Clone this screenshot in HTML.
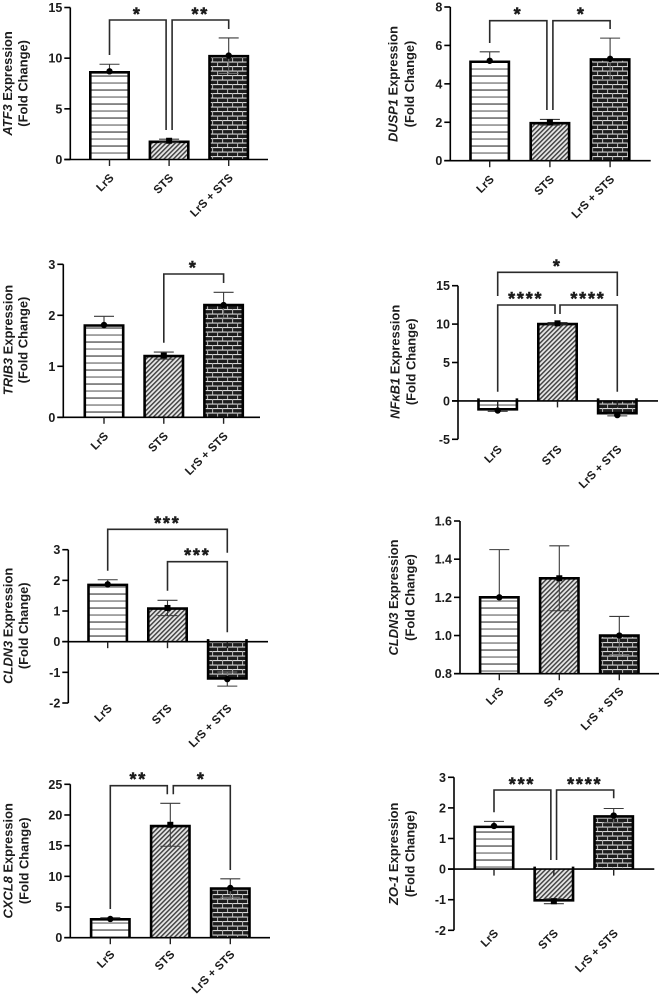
<!DOCTYPE html>
<html lang="en">
<head>
<meta charset="utf-8">
<title>Gene expression fold change panels</title>
<style>
html,body{margin:0;padding:0;background:#fff;width:662px;height:995px;overflow:hidden}
svg{display:block;filter:blur(0.35px)}
text{font-family:"Liberation Sans",Arial,sans-serif;font-weight:bold;fill:#1c1c1c}
</style>
</head>
<body>
<svg id="figure" xmlns="http://www.w3.org/2000/svg" width="662" height="995" viewBox="0 0 662 995">
<defs>
<pattern id="pat-lines" patternUnits="userSpaceOnUse" width="14" height="14" patternTransform="translate(0,3)">
<rect width="14" height="14" fill="#fff"/>
<rect y="2.3" width="14" height="1.5" fill="#666"/>
<rect y="9.3" width="14" height="1.5" fill="#888"/>
</pattern>
<pattern id="pat-hatch" patternUnits="userSpaceOnUse" width="3.3" height="3.3" patternTransform="rotate(-45)">
<rect width="3.3" height="3.3" fill="#e8e8e8"/>
<rect width="3.3" height="1.5" fill="#444"/>
</pattern>
<pattern id="pat-brick" patternUnits="userSpaceOnUse" width="10" height="9">
<rect width="10" height="9" fill="#1d1d1d"/>
<rect y="3" width="10" height="1.1" fill="#d8d8d8"/>
<rect y="7.5" width="10" height="1.1" fill="#d8d8d8"/>
<rect x="2" y="3" width="1.1" height="4.5" fill="#aaa"/>
<rect x="7" y="7.5" width="1.1" height="1.5" fill="#aaa"/>
<rect x="7" y="0" width="1.1" height="3" fill="#aaa"/>
</pattern>
</defs>
</svg>
<script>
// ---- shared categories ----
const categories = ["LrS", "STS", "LrS + STS"];

// ---- series values, points, error amounts and tick labels ----
const atf3Values = [8.6, 1.75, 10.2];
const atf3Points = [8.7, 1.85, 10.25];
const atf3Errors = [0.7, 0.15, 1.75];
const atf3Ticks = [0, 5, 10, 15];

const dusp1Values = [5.15, 1.95, 5.27];
const dusp1Points = [5.2, 2.0, 5.3];
const dusp1Errors = [0.47, 0.15, 1.08];
const dusp1Ticks = [0, 2, 4, 6, 8];

const trib3Values = [1.8, 1.2, 2.2];
const trib3Points = [1.81, 1.21, 2.2];
const trib3Errors = [0.17, 0.07, 0.25];
const trib3Ticks = [0, 1, 2, 3];

const nfkb1Values = [-1.1, 10, -1.6];
const nfkb1Points = [-1.25, 10.1, -1.85];
const nfkb1Errors = [0.1, 0.1, 0.1];
const nfkb1Ticks = [-5, 0, 5, 10, 15];

const cldn3aValues = [1.85, 1.08, -1.2];
const cldn3aPoints = [1.87, 1.1, -1.22];
const cldn3aErrors = [0.15, 0.25, 0.23];
const cldn3aTicks = [-2, -1, 0, 1, 2, 3];

const cldn3bValues = [1.2, 1.3, 1.0];
const cldn3bPoints = [1.2, 1.3, 1.0];
const cldn3bErrors = [0.25, 0.17, 0.1];
const cldn3bTicks = ["0.8", "1.0", "1.2", "1.4", "1.6"];

const cxcl8Values = [3, 18.2, 8.0];
const cxcl8Points = [3.05, 18.4, 8.1];
const cxcl8Errors = [0.2, 3.5, 1.5];
const cxcl8Ticks = [0, 5, 10, 15, 20, 25];

const zo1Values = [1.38, -1.02, 1.72];
const zo1Points = [1.41, -1.05, 1.75];
const zo1Errors = [0.15, 0.08, 0.23];
const zo1Ticks = [-2, -1, 0, 1, 2, 3];

const barFills = ["url(#pat-lines)", "url(#pat-hatch)", "url(#pat-brick)"];
const innerErrorColors = ["none", "#3a3a3a", "#777"];
const SVGNS = "http://www.w3.org/2000/svg";
const root = document.getElementById("figure");

function make(tag, parent, attrs) {
  const el = document.createElementNS(SVGNS, tag);
  for (const k in attrs) el.setAttribute(k, attrs[k]);
  parent.appendChild(el);
  return el;
}

function slug(s) {
  return String(s).toLowerCase().replace(/[^a-z0-9.-]+/g, "-");
}

// bracket: a/b = category indices, da/db = horizontal nudge, yA/yB = leg ends, yTop = bar level, sx/sy = stars
function drawPanel(p) {
  const g = make("g", root, {});
  
  

  const tickMin = Number(p.ticks[0]);
  const tickMax = Number(p.ticks[p.ticks.length - 1]);
  const yScale = v => p.yBottom + (v - tickMin) * (p.yTop - p.yBottom) / (tickMax - tickMin);
  const xScale = i => p.firstX + i * p.stepX;
  const base = Math.max(0, tickMin);
  const y0 = yScale(base);
  const labelAnchorY = p.labelY;
  const halfBar = 19.2;

  // bars
  p.values.forEach((v, i) => {
    const cx = xScale(i), vy = yScale(v);
    const name = slug(categories[i]);
    const fill = make("rect", g, {
      x: cx - halfBar, y: Math.min(vy, y0), width: halfBar * 2, height: Math.abs(vy - y0), fill: barFills[i]
    });
    
    
    const startY = v < base ? y0 - 2.5 : y0;
    const outline = make("path", g, {
      d: "M" + (cx - halfBar) + " " + startY + "V" + vy + "H" + (cx + halfBar) + "V" + startY,
      fill: "none", stroke: "#000", "stroke-width": 2.6
    });
    
    
  });

  // error bars: outer whisker is fully visible, inner whisker fades into the bar pattern
  p.points.forEach((v, i) => {
    const cx = xScale(i), cy = yScale(v);
    const sign = v >= 0 ? 1 : -1;
    const outerY = yScale(v + sign * p.errors[i]);
    const innerY = yScale(v - sign * p.errors[i]);
    const err = make("path", g, {
      d: "M" + cx + " " + outerY + "V" + cy + "M" + (cx - 10) + " " + outerY + "H" + (cx + 10),
      fill: "none", stroke: "#3a3a3a", "stroke-width": 1.1
    });
    
    
    const inner = make("path", g, {
      d: "M" + cx + " " + cy + "V" + innerY + "M" + (cx - 10) + " " + innerY + "H" + (cx + 10),
      fill: "none", stroke: innerErrorColors[i], "stroke-width": 1
    });
    
    
  });

  // points
  p.points.forEach((v, i) => {
    const cx = xScale(i), cy = yScale(v);
    const dot = i === 1
      ? make("rect", g, { x: cx - 3, y: cy - 3, width: 6, height: 6, fill: "#000" })
      : make("circle", g, { cx: cx, cy: cy, r: 3.2, fill: "#000" });
    
    
  });

  // axes
  const yAxis = make("line", g, {
    x1: p.axisX, x2: p.axisX, y1: p.yBottom, y2: p.yTop, stroke: "#000", "stroke-width": 1.6
  });
  
  
  const xAxis = make("line", g, {
    x1: p.axisX - 6, x2: p.axisEnd, y1: y0, y2: y0, stroke: "#000", "stroke-width": 1.6
  });
  
  

  // y ticks
  p.ticks.forEach(t => {
    const ty = yScale(Number(t));
    const tick = make("line", g, {
      x1: p.axisX - 6, x2: p.axisX, y1: ty, y2: ty, stroke: "#000", "stroke-width": 1.6
    });
    
    
    const lab = make("text", g, {
      x: p.axisX - 8, y: ty + 4.5, "text-anchor": "end", "font-size": 12.5
    });
    lab.textContent = t;
    
    
  });

  // x ticks and category labels
  categories.forEach((c, i) => {
    const cx = xScale(i);
    const tick = make("line", g, {
      x1: cx, x2: cx, y1: y0, y2: y0 + 6.5, stroke: "#222", "stroke-width": 1.4
    });
    
    
    const ax = cx + 5, ay = labelAnchorY - 1;
    const lab = make("text", g, {
      x: ax, y: ay, "text-anchor": "end", "font-size": 11.6,
      transform: "rotate(-45 " + ax + " " + ay + ")"
    });
    lab.textContent = c;
    
    
  });

  // y axis title
  const titleLines = [[p.gene, " Expression"], ["", "(Fold Change)"]];
  titleLines.forEach((line, n) => {
    const tx = p.titleX + n * p.titleGap;
    const title = make("text", g, {
      x: tx, y: p.titleY, "text-anchor": "middle", "font-size": 12.9,
      transform: "rotate(-90 " + tx + " " + p.titleY + ")"
    });
    
    
    if (line[0]) {
      const it = make("tspan", title, { "font-style": "italic" });
      it.textContent = line[0];
    }
    const rest = make("tspan", title, {});
    rest.textContent = line[1];
  });

  // significance brackets
  p.brackets.forEach(b => {
    const xa = xScale(b.a) + (b.da || 0), xb = xScale(b.b) + (b.db || 0);
    const path = make("path", g, {
      d: "M" + xa + " " + b.yA + "V" + b.yTop + "H" + xb + "V" + b.yB,
      fill: "none", stroke: "#2a2a2a", "stroke-width": 1.6
    });
    
    
    const star = make("text", g, {
      x: b.sx, y: b.sy + 10.3, "text-anchor": "middle", "font-size": 18, "letter-spacing": 1.8,
      stroke: "#1c1c1c", "stroke-width": 0.5
    });
    star.textContent = b.stars;
    
    
  });
}

drawPanel({
  id: "atf3", gene: "ATF3", values: atf3Values, points: atf3Points, errors: atf3Errors, ticks: atf3Ticks,
  axisX: 70.3, axisEnd: 268, yTop: 7.5, yBottom: 159.5, firstX: 109.5, stepX: 59.6,
  labelY: 179.5, titleX: 12, titleGap: 15.3, titleY: 83.4,
  brackets: [
    { a: 0, b: 1, db: -3, yA: 55, yB: 130, yTop: 20, sx: 137.3, sy: 10, stars: "*" },
    { a: 1, b: 2, da: 3, yA: 130, yB: 29, yTop: 20, sx: 200.3, sy: 10, stars: "**" }
  ]
});
drawPanel({
  id: "dusp1", gene: "DUSP1", values: dusp1Values, points: dusp1Points, errors: dusp1Errors, ticks: dusp1Ticks,
  axisX: 450.3, axisEnd: 650.7, yTop: 7, yBottom: 160.7, firstX: 489.7, stepX: 60.2,
  labelY: 181, titleX: 397.3, titleGap: 16.5, titleY: 84,
  brackets: [
    { a: 0, b: 1, db: -3, yA: 43, yB: 110, yTop: 20.7, sx: 518, sy: 10, stars: "*" },
    { a: 1, b: 2, da: 3, yA: 110, yB: 29, yTop: 20.7, sx: 581.3, sy: 10, stars: "*" }
  ]
});
drawPanel({
  id: "trib3", gene: "TRIB3", values: trib3Values, points: trib3Points, errors: trib3Errors, ticks: trib3Ticks,
  axisX: 63.3, axisEnd: 260, yTop: 264.3, yBottom: 417.3, firstX: 104, stepX: 59.8,
  labelY: 437.8, titleX: 12.3, titleGap: 15, titleY: 340,
  brackets: [
    { a: 1, b: 2, yA: 342.7, yB: 283, yTop: 274, sx: 193.3, sy: 263.5, stars: "*" }
  ]
});
drawPanel({
  id: "nfkb1", gene: "NFκB1", values: nfkb1Values, points: nfkb1Points, errors: nfkb1Errors, ticks: nfkb1Ticks,
  axisX: 458, axisEnd: 658, yTop: 285.7, yBottom: 439.3, firstX: 497.7, stepX: 59.8,
  labelY: 451, titleX: 399.7, titleGap: 16, titleY: 361.8,
  brackets: [
    { a: 0, b: 2, yA: 296, yB: 296, yTop: 272.3, sx: 557.3, sy: 262, stars: "*" },
    { a: 0, b: 1, db: -2.5, yA: 391.7, yB: 314, yTop: 305, sx: 525.7, sy: 294.5, stars: "****" },
    { a: 1, b: 2, da: 2.5, yA: 314, yB: 391.7, yTop: 305, sx: 588, sy: 294.5, stars: "****" }
  ]
});
drawPanel({
  id: "cldn3-left", gene: "CLDN3", values: cldn3aValues, points: cldn3aPoints, errors: cldn3aErrors, ticks: cldn3aTicks,
  axisX: 68.3, axisEnd: 268, yTop: 549.7, yBottom: 703, firstX: 107.7, stepX: 59.8,
  labelY: 710, titleX: 12.3, titleGap: 15.7, titleY: 625.8,
  brackets: [
    { a: 0, b: 2, yA: 570.7, yB: 552.7, yTop: 529.3, sx: 167.3, sy: 519, stars: "***" },
    { a: 1, b: 2, yA: 590.7, yB: 632.3, yTop: 561.7, sx: 197.3, sy: 551, stars: "***" }
  ]
});
drawPanel({
  id: "cldn3-right", gene: "CLDN3", values: cldn3bValues, points: cldn3bPoints, errors: cldn3bErrors, ticks: cldn3bTicks,
  axisX: 460, axisEnd: 659, yTop: 521, yBottom: 673.7, firstX: 499.3, stepX: 60,
  labelY: 693, titleX: 398, titleGap: 16.7, titleY: 597.5,
  brackets: []
});
drawPanel({
  id: "cxcl8", gene: "CXCL8", values: cxcl8Values, points: cxcl8Points, errors: cxcl8Errors, ticks: cxcl8Ticks,
  axisX: 70.3, axisEnd: 270, yTop: 784.3, yBottom: 937.7, firstX: 110.3, stepX: 60,
  labelY: 956, titleX: 12.3, titleGap: 16, titleY: 860.8,
  brackets: [
    { a: 0, b: 1, db: -3, yA: 909, yB: 794.3, yTop: 785.7, sx: 138.3, sy: 775, stars: "**" },
    { a: 1, b: 2, da: 3, yA: 794.3, yB: 870, yTop: 785.7, sx: 201.3, sy: 775, stars: "*" }
  ]
});
drawPanel({
  id: "zo1", gene: "ZO-1", values: zo1Values, points: zo1Points, errors: zo1Errors, ticks: zo1Ticks,
  axisX: 454, axisEnd: 654.3, yTop: 777.3, yBottom: 930.3, firstX: 494, stepX: 59.85,
  labelY: 935, titleX: 398, titleGap: 16.7, titleY: 853.8,
  brackets: [
    { a: 0, b: 1, db: -3, yA: 812.3, yB: 860, yTop: 790, sx: 522, sy: 780, stars: "***" },
    { a: 1, b: 2, da: 2.7, yA: 860, yB: 798.3, yTop: 790, sx: 584.7, sy: 780, stars: "****" }
  ]
});
</script>
</body>
</html>
